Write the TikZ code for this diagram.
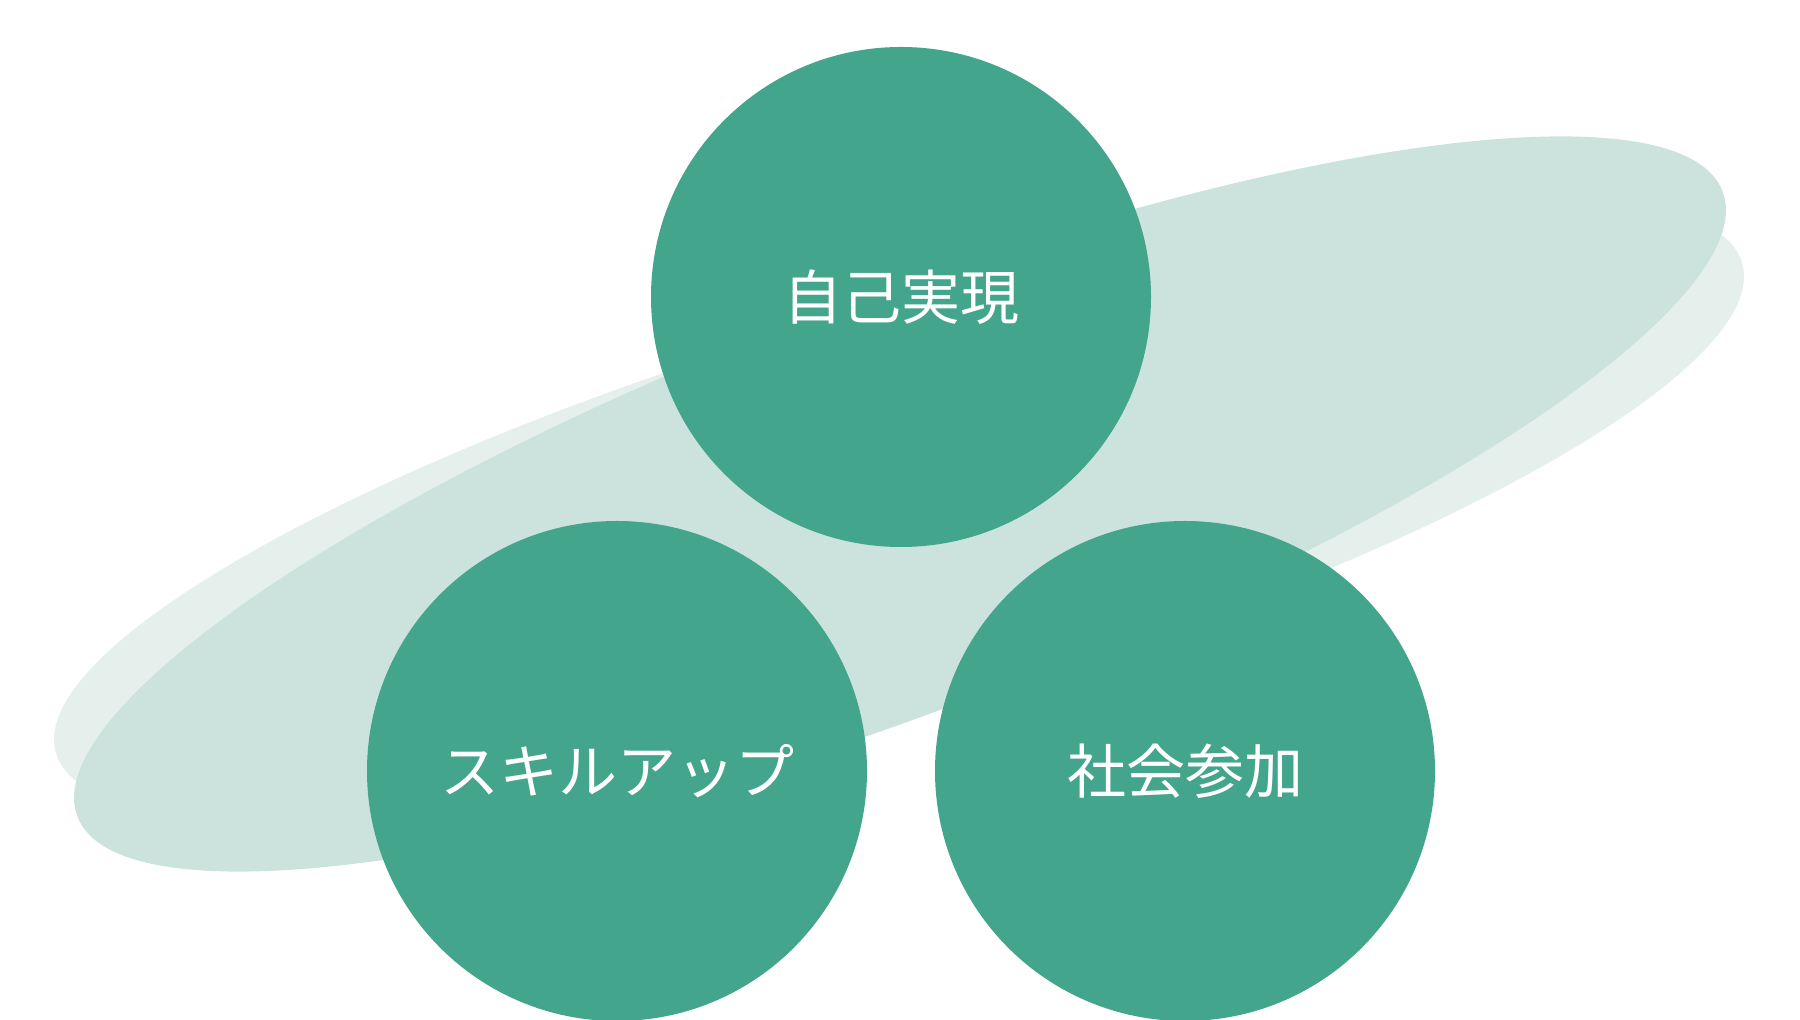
\documentclass[tikz,border=0pt]{standalone}
\usepackage{fontspec}
\newfontfamily\cjk{Noto Sans CJK JP}
\usetikzlibrary{shapes.geometric}
\definecolor{circgreen}{HTML}{43A58B}
\definecolor{frontblob}{HTML}{CCE3DD}
\definecolor{backblob}{HTML}{E5F0EC}
\tikzset{
  blob/.style={ellipse, inner sep=0pt, draw=none},
  bigcirc/.style={circle, fill=circgreen, draw=none, minimum size=500pt, inner sep=0pt,
    text=white, font=\cjk\fontsize{59pt}{63pt}\selectfont}
}
\begin{document}
\begin{tikzpicture}[x=1pt,y=1pt]
\useasboundingbox (0,0) rectangle (1800,1020);
\fill[white] (0,0) rectangle (1800,1020);
\node[blob, fill=backblob, rotate=16.2, minimum width=1756pt, minimum height=400pt] (back) at (899,512) {};
\node[blob, fill=frontblob, rotate=20.8, minimum width=1760pt, minimum height=414pt] (front) at (900,516) {};
\node[bigcirc] (top) at (901,723) {自己実現};
\node[bigcirc] (left) at (617,249) {スキルアップ};
\node[bigcirc] (right) at (1185,249) {社会参加};
\end{tikzpicture}
\end{document}
